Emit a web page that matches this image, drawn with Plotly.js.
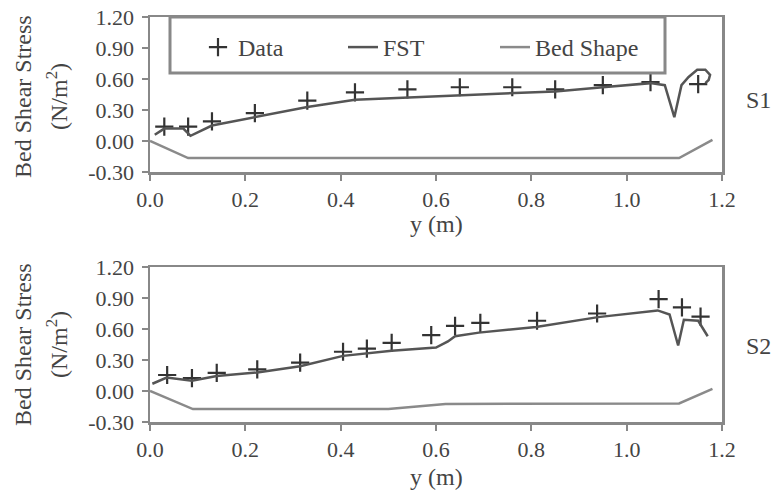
<!DOCTYPE html>
<html>
<head>
<meta charset="utf-8">
<script src="https://cdn.plot.ly/plotly-3.0.1.min.js"></script>
<style>html,body{margin:0;padding:0;background:#fff;}#chart{width:784px;height:495px;}</style>
</head>
<body>
<div id="chart"></div>
<script>
// ---- S1 ----
const s1DataX = [0.03, 0.08, 0.13, 0.22, 0.33, 0.43, 0.54, 0.65, 0.76, 0.85, 0.95, 1.05, 1.15];
const s1DataY = [0.14, 0.14, 0.19, 0.27, 0.39, 0.47, 0.50, 0.52, 0.52, 0.50, 0.54, 0.57, 0.55];
const s1FstX = [0.01, 0.03, 0.07, 0.085, 0.13, 0.23, 0.33, 0.43, 0.54, 0.65, 0.75, 0.85, 0.95, 1.05, 1.08, 1.10, 1.115, 1.13, 1.148, 1.165, 1.175, 1.172, 1.165];
const s1FstY = [0.06, 0.12, 0.12, 0.05, 0.15, 0.24, 0.33, 0.40, 0.42, 0.44, 0.46, 0.48, 0.52, 0.56, 0.54, 0.23, 0.54, 0.62, 0.69, 0.69, 0.64, 0.59, 0.56];
const s1BedX = [0, 0.08, 1.11, 1.18];
const s1BedY = [0, -0.165, -0.165, 0.01];
// ---- S2 ----
const s2DataX = [0.036, 0.088, 0.14, 0.225, 0.315, 0.405, 0.455, 0.507, 0.59, 0.64, 0.693, 0.812, 0.938, 1.067, 1.116, 1.155];
const s2DataY = [0.155, 0.125, 0.175, 0.21, 0.275, 0.38, 0.41, 0.465, 0.54, 0.63, 0.66, 0.68, 0.75, 0.89, 0.81, 0.72];
const s2FstX = [0.005, 0.035, 0.088, 0.14, 0.225, 0.315, 0.405, 0.507, 0.60, 0.625, 0.64, 0.69, 0.81, 0.94, 1.065, 1.09, 1.108, 1.12, 1.15, 1.17];
const s2FstY = [0.07, 0.13, 0.10, 0.145, 0.18, 0.24, 0.34, 0.39, 0.42, 0.48, 0.53, 0.565, 0.62, 0.715, 0.78, 0.74, 0.44, 0.69, 0.68, 0.53];
const s2BedX = [0, 0.09, 0.50, 0.62, 1.11, 1.18];
const s2BedY = [0, -0.175, -0.175, -0.125, -0.12, 0.02];

const xTickVals = [0, 0.2, 0.4, 0.6, 0.8, 1.0, 1.2];
const xTickText = ['0.0', '0.2', '0.4', '0.6', '0.8', '1.0', '1.2'];
const yTickVals = [-0.3, 0, 0.3, 0.6, 0.9, 1.2];
const yTickText = ['-0.30', '0.00', '0.30', '0.60', '0.90', '1.20'];
const seriesNames = ['Data', 'FST', 'Bed Shape'];

const FONT = 'Liberation Serif, Times New Roman, serif';
const TXT = '#444';
const dataMarker = {symbol: 'cross-thin', size: 13, line: {width: 2.2, color: '#333'}, color: '#333'};
const fstLine = {color: '#555', width: 2.5};
const bedLine = {color: '#8a8a8a', width: 2.5};

const traces = [
  {x: s1DataX, y: s1DataY, name: seriesNames[0], mode: 'markers', type: 'scatter', marker: dataMarker, xaxis: 'x', yaxis: 'y', legend: 'legend'},
  {x: s1FstX, y: s1FstY, name: seriesNames[1], mode: 'lines', type: 'scatter', line: fstLine, xaxis: 'x', yaxis: 'y', legend: 'legend'},
  {x: s1BedX, y: s1BedY, name: seriesNames[2], mode: 'lines', type: 'scatter', line: bedLine, xaxis: 'x', yaxis: 'y', legend: 'legend2'},
  {x: s2DataX, y: s2DataY, name: seriesNames[0], mode: 'markers', type: 'scatter', marker: dataMarker, xaxis: 'x2', yaxis: 'y2', showlegend: false},
  {x: s2FstX, y: s2FstY, name: seriesNames[1], mode: 'lines', type: 'scatter', line: fstLine, xaxis: 'x2', yaxis: 'y2', showlegend: false},
  {x: s2BedX, y: s2BedY, name: seriesNames[2], mode: 'lines', type: 'scatter', line: bedLine, xaxis: 'x2', yaxis: 'y2', showlegend: false}
];

function xAxis(anchor) {
  return {
    range: [0, 1.2], tickvals: xTickVals, ticktext: xTickText,
    showgrid: false, zeroline: false, showline: true, mirror: true,
    linecolor: '#888', linewidth: 2.5, ticks: 'outside', ticklen: 6, tickwidth: 2, tickcolor: '#888',
    tickfont: {family: FONT, size: 22, color: TXT}, anchor: anchor
  };
}
function yAxis(domain, anchor) {
  return {
    domain: domain, range: [-0.3, 1.2], tickvals: yTickVals, ticktext: yTickText,
    showgrid: false, zeroline: false, showline: true, mirror: true,
    linecolor: '#888', linewidth: 2.5, ticks: 'outside', ticklen: 6, tickwidth: 2, tickcolor: '#888',
    ticklabelstandoff: 3,
    tickfont: {family: FONT, size: 22, color: TXT}, anchor: anchor
  };
}

const W = 572, H = 405, L = 150, T = 17;
const px = v => (v - L) / W;
const py = v => (T + H - v) / H;

const annFont = {family: FONT, size: 24, color: TXT};
function ann(text, x, y, angle) {
  return {text: text, xref: 'paper', yref: 'paper', x: px(x), y: py(y), xanchor: 'center', yanchor: 'middle',
          textangle: angle || 0, showarrow: false, font: annFont};
}
const legFont = {family: FONT, size: 24, color: TXT};
const layout = {
  width: 784, height: 495,
  margin: {l: L, r: 62, t: T, b: 73},
  paper_bgcolor: '#fff', plot_bgcolor: '#fff',
  font: {family: FONT, size: 22, color: TXT},
  xaxis: xAxis('y'),
  yaxis: yAxis([py(172), 1], 'x'),
  xaxis2: xAxis('y2'),
  yaxis2: yAxis([0, py(267)], 'x2'),
  showlegend: true,
  legend: {
    orientation: 'h', x: px(198), y: py(25), xanchor: 'left', yanchor: 'top',
    bgcolor: 'rgba(0,0,0,0)', borderwidth: 0, font: legFont,
    entrywidth: 100, entrywidthmode: 'pixels', tracegroupgap: 0
  },
  legend2: {
    orientation: 'h', x: px(495), y: py(25), xanchor: 'left', yanchor: 'top',
    bgcolor: 'rgba(0,0,0,0)', borderwidth: 0, font: legFont
  },
  shapes: [
    {type: 'rect', xref: 'paper', yref: 'paper', x0: px(170), x1: px(665), y0: py(73), y1: 1,
     line: {color: '#888', width: 3}, fillcolor: 'rgba(0,0,0,0)', layer: 'above'}
  ],
  annotations: [
    ann('Bed Shear Stress', 23, 97, -90),
    ann('(N/m<sup>2</sup>)', 57, 97, -90),
    ann('Bed Shear Stress', 23, 345, -90),
    ann('(N/m<sup>2</sup>)', 57, 345, -90),
    ann('y (m)', 436, 224),
    ann('y (m)', 436, 477),
    ann('S1', 759, 100),
    ann('S2', 759, 346)
  ]
};

Plotly.newPlot('chart', traces, layout, {staticPlot: true, displayModeBar: false});
</script>
</body>
</html>
